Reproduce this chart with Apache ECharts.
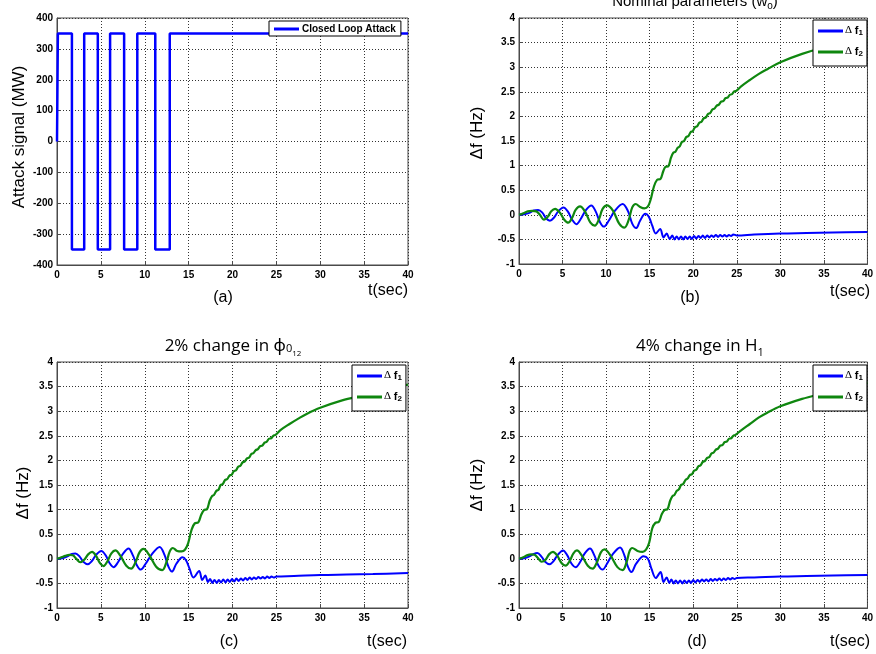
<!DOCTYPE html>
<html>
<head>
<meta charset="utf-8">
<script src="https://cdn.jsdelivr.net/npm/echarts@6/dist/echarts.min.js"></script>
<style>
html,body{margin:0;padding:0;background:#fff;}
#main{width:876px;height:654px;}
</style>
</head>
<body>
<div id="main"></div>
<script>
// ---------- data ----------
const xTicks = [0, 5, 10, 15, 20, 25, 30, 35, 40];
const attackTicks = [-400, -300, -200, -100, 0, 100, 200, 300, 400];
const freqTicks = [-1, -0.5, 0, 0.5, 1, 1.5, 2, 2.5, 3, 3.5, 4];

// panel (a): closed loop attack signal (MW)
const attackSignal = [[0,0],[0.1,350],[1.7,350],[1.7,-350],[3.1,-350],[3.1,350],[4.65,350],[4.65,-350],[6.05,-350],[6.05,350],[7.65,350],[7.65,-350],[9.15,-350],[9.15,350],[11.2,350],[11.2,-350],[12.85,-350],[12.85,350],[40,350]];

// panel (b): nominal parameters
const f1Nominal = [[0,0],[0.6,0.01],[1.2,0.04],[1.7,0.09],[2.2,0.1],[2.7,0.04],[3.1,-0.07],[3.55,-0.12],[4.0,-0.06],[4.5,0.07],[5.1,0.15],[5.6,0.07],[6.1,-0.1],[6.6,-0.19],[7.1,-0.08],[7.7,0.1],[8.3,0.19],[8.8,0.07],[9.3,-0.15],[9.75,-0.24],[10.3,-0.12],[11.0,0.08],[11.9,0.22],[12.5,0.08],[13.0,-0.18],[13.45,-0.27],[13.9,-0.12],[14.5,0.02],[14.9,-0.04],[15.3,-0.22],[15.7,-0.38],[16.2,-0.29],[16.6,-0.46],[16.95,-0.38],[17.3,-0.49],[17.6,-0.42],[17.85,-0.5],[18.1,-0.44],[18.35,-0.5],[18.6,-0.44],[18.85,-0.5],[19.1,-0.44],[19.35,-0.49],[19.6,-0.44],[19.85,-0.49],[20.1,-0.43],[20.35,-0.48],[20.6,-0.43],[20.85,-0.47],[21.1,-0.42],[21.35,-0.47],[21.6,-0.42],[21.85,-0.46],[22.1,-0.42],[22.35,-0.45],[22.6,-0.41],[22.85,-0.45],[23.1,-0.41],[23.35,-0.44],[23.6,-0.41],[23.85,-0.44],[24.1,-0.41],[24.35,-0.43],[24.6,-0.4],[25,-0.42],[27,-0.4],[30,-0.38],[33,-0.37],[36,-0.36],[40,-0.35]];
const f2Nominal = [[0,0],[0.5,0.03],[1.0,0.07],[1.5,0.08],[2.0,0.07],[2.4,0.0],[2.85,-0.1],[3.3,-0.04],[3.7,0.07],[4.15,0.12],[4.7,0.04],[5.2,-0.1],[5.65,-0.16],[6.1,-0.06],[6.5,0.1],[7.0,0.17],[7.6,0.06],[8.2,-0.16],[8.7,-0.22],[9.2,-0.08],[9.6,0.12],[10.1,0.19],[10.8,0.08],[11.5,-0.18],[12.1,-0.26],[12.6,-0.1],[13.0,0.15],[13.4,0.22],[13.9,0.16],[14.4,0.13],[14.8,0.17],[15.1,0.3],[15.5,0.58],[15.85,0.71],[16.25,0.73],[16.55,0.88],[16.8,0.97],[17.15,0.99],[17.45,1.16],[17.7,1.26],[17.95,1.28],[18.2,1.36],[18.45,1.39],[18.7,1.48],[18.95,1.5],[19.2,1.58],[19.45,1.6],[19.7,1.68],[19.95,1.7],[20.2,1.78],[20.45,1.8],[20.7,1.87],[20.95,1.89],[21.2,1.96],[21.45,1.98],[21.7,2.05],[21.95,2.07],[22.2,2.14],[22.45,2.16],[22.7,2.22],[22.95,2.24],[23.2,2.3],[23.45,2.31],[23.7,2.37],[23.95,2.38],[24.2,2.44],[24.45,2.45],[24.7,2.51],[24.95,2.52],[25.5,2.61],[26.5,2.74],[27.5,2.86],[28.5,2.96],[30,3.1],[32.5,3.27],[35,3.4],[37.5,3.5],[40,3.58]];

// panel (c): 2% change in phi_012
const f1Phi = [[0,0],[0.6,0.01],[1.2,0.05],[1.7,0.1],[2.1,0.11],[2.6,0.04],[3.0,-0.06],[3.5,-0.11],[3.95,-0.05],[4.45,0.08],[5.05,0.16],[5.55,0.07],[6.0,-0.09],[6.45,-0.17],[6.95,-0.07],[7.55,0.11],[8.15,0.21],[8.65,0.07],[9.1,-0.13],[9.55,-0.22],[10.1,-0.1],[10.8,0.09],[11.7,0.24],[12.25,0.08],[12.7,-0.16],[13.1,-0.26],[13.6,-0.1],[14.3,0.03],[14.7,-0.03],[15.1,-0.2],[15.55,-0.38],[16.2,-0.25],[16.55,-0.43],[16.9,-0.34],[17.2,-0.47],[17.45,-0.41],[17.7,-0.49],[17.95,-0.43],[18.2,-0.49],[18.45,-0.43],[18.7,-0.48],[18.95,-0.42],[19.2,-0.48],[19.45,-0.42],[19.7,-0.47],[19.95,-0.41],[20.2,-0.46],[20.45,-0.4],[20.7,-0.45],[20.95,-0.4],[21.2,-0.44],[21.45,-0.39],[21.7,-0.43],[21.95,-0.38],[22.2,-0.42],[22.45,-0.38],[22.7,-0.41],[22.95,-0.37],[23.2,-0.4],[23.45,-0.37],[23.7,-0.4],[23.95,-0.36],[24.2,-0.39],[24.45,-0.36],[24.7,-0.38],[25,-0.36],[27,-0.35],[30,-0.33],[33,-0.32],[36,-0.31],[40,-0.29]];
const f2Phi = [[0,0],[0.5,0.03],[0.95,0.06],[1.4,0.08],[1.8,0.07],[2.2,0.0],[2.65,-0.07],[3.1,-0.02],[3.55,0.09],[4.0,0.14],[4.45,0.06],[4.9,-0.09],[5.3,-0.15],[5.75,-0.05],[6.2,0.11],[6.65,0.17],[7.2,0.07],[7.9,-0.14],[8.45,-0.2],[8.95,-0.07],[9.4,0.13],[9.85,0.2],[10.5,0.08],[11.3,-0.16],[12.0,-0.23],[12.45,-0.08],[12.85,0.15],[13.2,0.22],[13.7,0.16],[14.2,0.15],[14.6,0.19],[14.95,0.32],[15.35,0.6],[15.7,0.72],[16.1,0.74],[16.45,0.9],[16.75,0.99],[17.1,1.01],[17.4,1.18],[17.65,1.27],[17.9,1.3],[18.15,1.38],[18.4,1.4],[18.65,1.5],[18.9,1.52],[19.15,1.6],[19.4,1.62],[19.65,1.69],[19.9,1.71],[20.15,1.78],[20.4,1.8],[20.65,1.87],[20.9,1.89],[21.15,1.96],[21.4,1.98],[21.65,2.04],[21.9,2.06],[22.15,2.13],[22.4,2.15],[22.65,2.21],[22.9,2.23],[23.15,2.29],[23.4,2.3],[23.65,2.36],[23.9,2.38],[24.15,2.44],[24.4,2.45],[24.65,2.5],[24.9,2.52],[25.5,2.62],[26.5,2.74],[27.5,2.85],[28.5,2.95],[30,3.07],[32.5,3.22],[35,3.33],[37.5,3.45],[40,3.54]];

// panel (d): 4% change in H1
const f1H = [[0,0],[0.6,0.01],[1.2,0.05],[1.7,0.1],[2.1,0.12],[2.6,0.04],[3.0,-0.06],[3.5,-0.11],[3.95,-0.05],[4.45,0.08],[5.05,0.17],[5.55,0.07],[6.0,-0.09],[6.5,-0.17],[7.0,-0.07],[7.55,0.11],[8.15,0.21],[8.65,0.07],[9.1,-0.13],[9.6,-0.22],[10.1,-0.1],[10.75,0.09],[11.6,0.23],[12.1,0.07],[12.5,-0.16],[12.9,-0.27],[13.45,-0.1],[14.3,0.05],[14.8,0.0],[15.2,-0.2],[15.7,-0.39],[16.25,-0.27],[16.6,-0.47],[16.95,-0.38],[17.25,-0.49],[17.5,-0.42],[17.75,-0.5],[18.0,-0.44],[18.25,-0.5],[18.5,-0.44],[18.75,-0.5],[19.0,-0.44],[19.25,-0.49],[19.5,-0.44],[19.75,-0.49],[20.0,-0.43],[20.25,-0.48],[20.5,-0.43],[20.75,-0.47],[21.0,-0.42],[21.25,-0.46],[21.5,-0.42],[21.75,-0.46],[22.0,-0.41],[22.25,-0.45],[22.5,-0.41],[22.75,-0.44],[23.0,-0.4],[23.25,-0.44],[23.5,-0.4],[23.75,-0.43],[24.0,-0.39],[24.25,-0.42],[24.5,-0.39],[24.75,-0.41],[25,-0.39],[27,-0.38],[30,-0.36],[33,-0.35],[36,-0.34],[40,-0.33]];
const f2H = [[0,0],[0.5,0.03],[0.9,0.07],[1.4,0.09],[1.8,0.08],[2.2,0.01],[2.6,-0.06],[3.05,-0.02],[3.45,0.09],[3.9,0.14],[4.4,0.06],[4.9,-0.09],[5.35,-0.14],[5.8,-0.05],[6.25,0.11],[6.65,0.17],[7.2,0.07],[7.9,-0.14],[8.45,-0.2],[8.95,-0.07],[9.4,0.13],[9.8,0.19],[10.5,0.07],[11.3,-0.17],[11.9,-0.23],[12.35,-0.07],[12.7,0.16],[13.0,0.22],[13.6,0.16],[14.2,0.14],[14.6,0.19],[14.95,0.33],[15.3,0.62],[15.65,0.73],[16.05,0.75],[16.4,0.91],[16.7,0.99],[17.05,1.01],[17.35,1.18],[17.6,1.27],[17.85,1.3],[18.1,1.38],[18.35,1.41],[18.6,1.5],[18.85,1.52],[19.1,1.6],[19.35,1.63],[19.6,1.7],[19.85,1.72],[20.1,1.79],[20.35,1.81],[20.6,1.88],[20.85,1.9],[21.1,1.97],[21.35,1.99],[21.6,2.05],[21.85,2.07],[22.1,2.14],[22.35,2.16],[22.6,2.22],[22.85,2.24],[23.1,2.3],[23.35,2.31],[23.6,2.37],[23.85,2.38],[24.1,2.44],[24.35,2.45],[24.6,2.5],[24.85,2.52],[25.5,2.61],[26.5,2.74],[27.5,2.87],[28.5,2.97],[30,3.1],[32.5,3.25],[35,3.37],[37.5,3.49],[40,3.58]];

// ---------- style ----------
const BLUE = '#0000ff';
const GREEN = '#0f870f';
const FRAME = '#4a4a4a';
const SANS = 'Liberation Sans, Arial, sans-serif';
const LINE_ICON = 'path://M0,0 L25,0 L25,3 L0,3 Z';

const grids = [
  {left: 57, top: 18, width: 351, height: 247},
  {left: 519, top: 18, width: 351, height: 246},
  {left: 57, top: 362, width: 351, height: 246},
  {left: 519, top: 362, width: 351, height: 246}
].map(g => Object.assign({show: true, borderColor: FRAME, borderWidth: 1, backgroundColor: '#fff', containLabel: false}, g));

const tickLabel = {color: '#000', fontWeight: 'bold', fontSize: 10, fontFamily: SANS, margin: 5};
const split = {show: true, lineStyle: {type: [1, 2], color: '#333', width: 1}};
function xAx(i) {
  return {type: 'value', gridIndex: i, min: xTicks[0], max: xTicks[xTicks.length - 1], interval: xTicks[1] - xTicks[0],
    axisLabel: tickLabel, axisLine: {show: true, onZero: false, lineStyle: {color: FRAME}},
    axisTick: {show: true, inside: true, length: 4, lineStyle: {color: FRAME}}, splitLine: split};
}
function yAx(i, ticks) {
  return {type: 'value', gridIndex: i, min: ticks[0], max: ticks[ticks.length - 1], interval: ticks[1] - ticks[0],
    axisLabel: Object.assign({}, tickLabel, {margin: 4}), axisLine: {show: true, lineStyle: {color: FRAME}},
    axisTick: {show: true, inside: true, length: 4, lineStyle: {color: FRAME}}, splitLine: split};
}

function line(name, data, idx, color, w) {
  return {name: name, type: 'line', xAxisIndex: idx, yAxisIndex: idx, data: data, showSymbol: false, symbol: 'none',
    smooth: 0.35, lineStyle: {color: color, width: w}, itemStyle: {color: color}, animation: false, z: 3};
}

const legRich = {
  d: {fontFamily: 'Liberation Serif, serif', fontSize: 11, color: '#000', lineHeight: 12, verticalAlign: 'top', padding: [0, 0, 4, 0]},
  f: {fontFamily: SANS, fontWeight: 'bold', fontSize: 11, color: '#000', lineHeight: 12, verticalAlign: 'top', padding: [0, 0, 4, 0]},
  s: {fontFamily: SANS, fontWeight: 'bold', fontSize: 8, color: '#000', lineHeight: 8, verticalAlign: 'bottom'}
};
function fLegend(idx, left, top) {
  return {show: true, orient: 'vertical', left: left, top: top, data: ['f1', 'f2'],
    backgroundColor: '#fff', borderColor: '#000', borderWidth: 1, padding: [5, 4, 5, 5], itemGap: 6,
    icon: LINE_ICON, itemWidth: 25, itemHeight: 3, selectedMode: false, z: 10,
    formatter: n => n === 'f1' ? '{d|Δ }{f|f}{s|1}' : '{d|Δ }{f|f}{s|2}',
    textStyle: {rich: legRich, padding: [0, 0, 0, -3]}};
}

function txt(x, y, text, size, extra) {
  return Object.assign({type: 'text', x: x, y: y, z: 20,
    style: {text: text, font: 'normal ' + size + 'px ' + SANS, fill: '#000', textAlign: 'center', textVerticalAlign: 'middle'}}, extra || {});
}
function ytxt(x, y, text) {
  return {type: 'text', x: x, y: y, rotation: Math.PI / 2, z: 20,
    style: {text: text, font: 'normal 17px ' + SANS, fill: '#000', textAlign: 'center', textVerticalAlign: 'middle'}};
}
const TITLE_FONT = 'Open Sans, Noto Sans, sans-serif';
function richTitle(x, y, text, rich) {
  return {type: 'text', x: x, y: y, z: 20,
    style: {text: text, fill: '#000', textAlign: 'center', textVerticalAlign: 'middle', rich: rich}};
}

const option = {
  backgroundColor: '#fff',
  animation: false,
  grid: grids,
  xAxis: [xAx(0), xAx(1), xAx(2), xAx(3)],
  yAxis: [yAx(0, attackTicks), yAx(1, freqTicks), yAx(2, freqTicks), yAx(3, freqTicks)],
  legend: [
    {show: true, left: 269, top: 21, data: ['Closed Loop Attack'], backgroundColor: '#fff', borderColor: '#000', borderWidth: 1,
      padding: [3, 5, 2, 5], icon: LINE_ICON, itemWidth: 25, itemHeight: 3, itemGap: 4, selectedMode: false, z: 10,
      textStyle: {color: '#000', fontWeight: 'bold', fontSize: 10, fontFamily: SANS, padding: [0, 0, 0, -2]}},
    fLegend(1, 813, 20),
    fLegend(2, 352, 365),
    fLegend(3, 813, 365)
  ],
  series: [
    Object.assign(line('Closed Loop Attack', attackSignal, 0, BLUE, 2.5), {smooth: false}),
    line('f1', f1Nominal, 1, BLUE, 2),
    line('f2', f2Nominal, 1, GREEN, 2.2),
    line('f1', f1Phi, 2, BLUE, 2),
    line('f2', f2Phi, 2, GREEN, 2.2),
    line('f1', f1H, 3, BLUE, 2),
    line('f2', f2H, 3, GREEN, 2.2)
  ],
  graphic: [
    txt(223, 298, '(a)', 16), txt(388, 291, 't(sec)', 16),
    txt(690, 298, '(b)', 16), txt(850, 292, 't(sec)', 16),
    txt(229, 642, '(c)', 16), txt(387, 642, 't(sec)', 16),
    txt(697, 642, '(d)', 16), txt(850, 642, 't(sec)', 16),
    ytxt(19, 137, 'Attack signal (MW)'),
    ytxt(477, 133, 'Δf (Hz)'),
    ytxt(23, 493, 'Δf (Hz)'),
    ytxt(477, 485, 'Δf (Hz)'),
    richTitle(695, 3, '{m|Nominal parameters (w}{s|o}{m|)}', {
      m: {fontFamily: SANS, fontSize: 15, color: '#000', lineHeight: 17, verticalAlign: 'top', padding: [0, 0, 2, 0]},
      s: {fontFamily: SANS, fontSize: 10, color: '#000', lineHeight: 10, verticalAlign: 'bottom'}}),
    richTitle(233, 348, '{m|2% change in ϕ}{s|0}{ss|12}', {
      m: {fontFamily: TITLE_FONT, fontSize: 17, color: '#000', lineHeight: 20, verticalAlign: 'top', padding: [0, 0, 6, 0]},
      s: {fontFamily: TITLE_FONT, fontSize: 11, color: '#000', lineHeight: 11, verticalAlign: 'bottom', padding: [0, 0, 4, 0]},
      ss: {fontFamily: TITLE_FONT, fontSize: 8, color: '#000', lineHeight: 8, verticalAlign: 'bottom'}}),
    richTitle(700, 348, '{m|4% change in H}{s|1}', {
      m: {fontFamily: TITLE_FONT, fontSize: 17, color: '#000', lineHeight: 20, verticalAlign: 'top', padding: [0, 0, 4, 0]},
      s: {fontFamily: TITLE_FONT, fontSize: 11, color: '#000', lineHeight: 11, verticalAlign: 'bottom'}})
  ]
};

const chart = echarts.init(document.getElementById('main'), null, {renderer: 'canvas'});
chart.setOption(option);
</script>
</body>
</html>
